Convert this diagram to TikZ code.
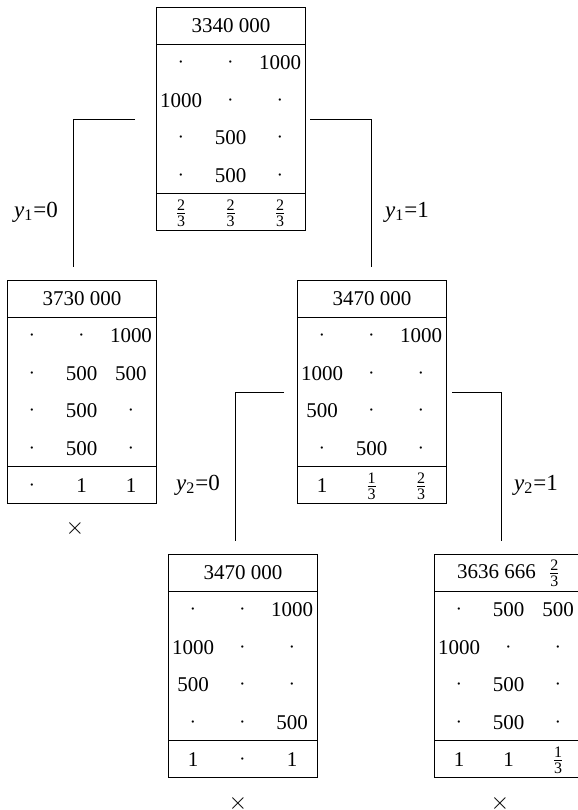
\documentclass[tikz,border=0pt]{standalone}
\usepackage{fontspec}
\setmainfont{Liberation Serif}
\usetikzlibrary{calc}
\newcommand\fr[2]{$\frac{\mbox{\fontsize{8}{8}\selectfont #1}}{\mbox{\fontsize{8}{8}\selectfont #2}}$}
\newcommand\dt{$\cdot$}
\newcommand\filltable[3]{%
  \draw[conn] ($(#1.north west)+(0,37)$) -- ++(149,0);
  \draw[conn] ($(#1.north west)+(0,186)$) -- ++(149,0);
  \node[txt] (#1-h) at ($(#1.north west)+(75,19)$) {#2};
  \foreach \row [count=\ri] in {#3} {
    \foreach \ti [count=\ci] in \row {
      \node[txt] (#1-\ri-\ci) at ($(#1.north west)+({25+49.5*(\ci-1)},{56+37.5*(\ri-1)})$) {\ti};
    }
  }
}
\begin{document}
\begin{tikzpicture}[x=0.5pt,y=-0.5pt,
  box/.style={draw, line width=0.5pt, anchor=north west, minimum width=74.5pt, minimum height=111.5pt, inner sep=0pt, outer sep=0pt},
  txt/.style={inner sep=0pt, font=\fontsize{10.5}{12}\selectfont},
  conn/.style={line width=0.5pt},
  lbl/.style={inner sep=0pt, font=\fontsize{11.5}{13}\selectfont}]
\useasboundingbox (0,0) rectangle (578,810);
\node[box] (A) at (156,7) {};
\node[box] (B) at (7,280) {};
\node[box] (C) at (297,280) {};
\node[box] (D) at (168,554) {};
\node[box] (E) at (434,554) {};
\filltable{A}{3340 000}{{\dt,\dt,1000},{1000,\dt,\dt},{\dt,500,\dt},{\dt,500,\dt},{\fr{2}{3},\fr{2}{3},\fr{2}{3}}}
\filltable{B}{3730 000}{{\dt,\dt,1000},{\dt,500,500},{\dt,500,\dt},{\dt,500,\dt},{\dt,1,1}}
\filltable{C}{3470 000}{{\dt,\dt,1000},{1000,\dt,\dt},{500,\dt,\dt},{\dt,500,\dt},{1,\fr{1}{3},\fr{2}{3}}}
\filltable{D}{3470 000}{{\dt,\dt,1000},{1000,\dt,\dt},{500,\dt,\dt},{\dt,\dt,500},{1,\dt,1}}
\filltable{E}{3636 666\hspace{6pt}\fr{2}{3}}{{\dt,500,500},{1000,\dt,\dt},{\dt,500,\dt},{\dt,500,\dt},{1,1,\fr{1}{3}}}
% connectors
\coordinate (ab1) at (135,119); \coordinate (ab2) at (73,119); \coordinate (ab3) at (73,267);
\coordinate (ac1) at (310,119); \coordinate (ac2) at (371,119); \coordinate (ac3) at (371,267);
\coordinate (cd1) at (284,392); \coordinate (cd2) at (235,392); \coordinate (cd3) at (235,541);
\coordinate (ce1) at (452,392); \coordinate (ce2) at (501,392); \coordinate (ce3) at (501,541);
\draw[conn] (ab1) -- (ab2) -- (ab3);
\draw[conn] (ac1) -- (ac2) -- (ac3);
\draw[conn] (cd1) -- (cd2) -- (cd3);
\draw[conn] (ce1) -- (ce2) -- (ce3);
\node[lbl] (l1) at (36,212) {\textit{y}\textsubscript{1}=0};
\node[lbl] (l2) at (407,212) {\textit{y}\textsubscript{1}=1};
\node[lbl] (l3) at (198,485) {\textit{y}\textsubscript{2}=0};
\node[lbl] (l4) at (536,485) {\textit{y}\textsubscript{2}=1};
\node[lbl] (x1) at (75,528) {$\times$};
\node[lbl] (x2) at (238,803) {$\times$};
\node[lbl] (x3) at (500,803) {$\times$};
\end{tikzpicture}
\end{document}
